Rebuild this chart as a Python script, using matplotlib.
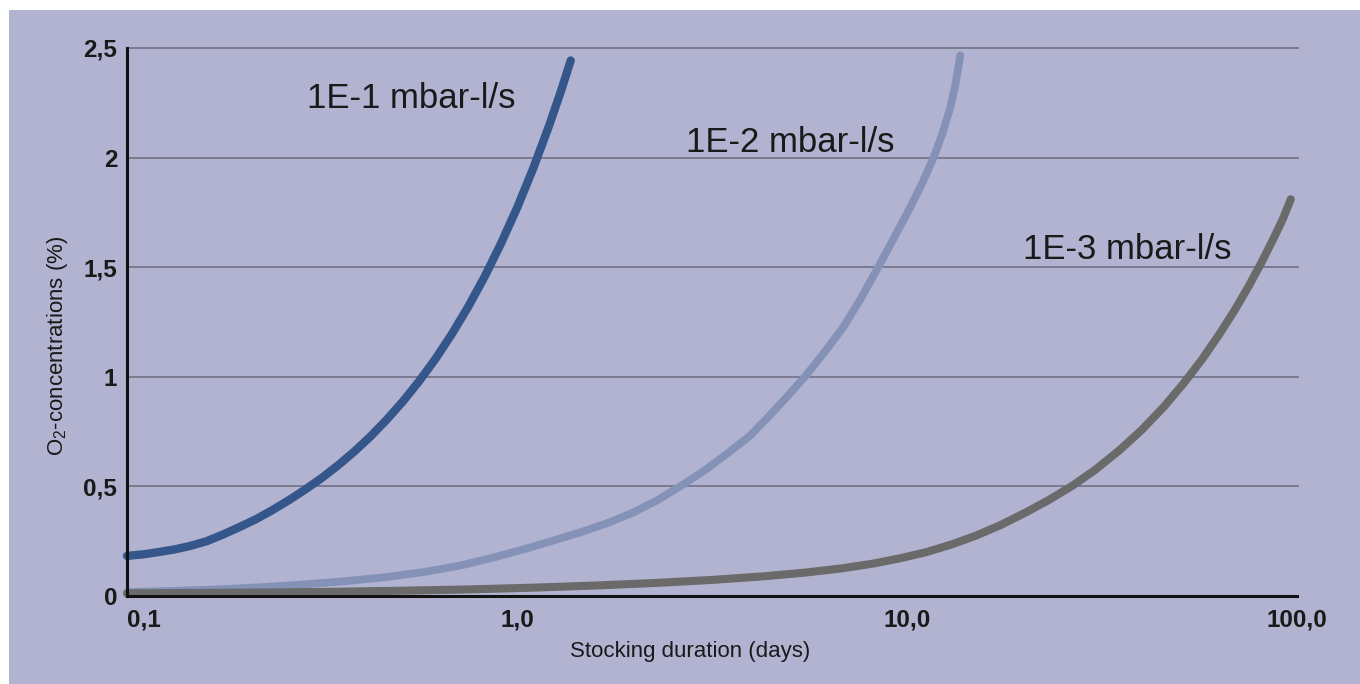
"""
O2 concentration vs stocking duration for three leak rates.
"""

import matplotlib
matplotlib.use('Agg')
import matplotlib.pyplot as plt
from matplotlib.patches import Rectangle

# ── Data ──────────────────────────────────────────────────────
t_e1 = [0.100, 0.110, 0.120, 0.132, 0.145, 0.160, 0.176, 0.194, 0.214, 0.236,
        0.260, 0.286, 0.315, 0.347, 0.382, 0.420, 0.462, 0.510, 0.560, 0.617,
        0.680, 0.750, 0.825, 0.908, 1.000, 1.100, 1.210, 1.300, 1.373]
y_e1 = [0.183, 0.190, 0.200, 0.212, 0.228, 0.250, 0.280, 0.314, 0.350, 0.392,
        0.437, 0.485, 0.537, 0.595, 0.658, 0.726, 0.802, 0.888, 0.978, 1.080,
        1.194, 1.320, 1.455, 1.605, 1.770, 1.950, 2.148, 2.310, 2.443]

t_e2 = [0.10, 0.13, 0.17, 0.22, 0.28, 0.36, 0.46, 0.58, 0.72, 0.88, 1.05,
        1.25, 1.48, 1.72, 1.98, 2.28, 2.62, 3.00, 3.45, 3.95, 4.40, 4.90,
        5.47, 6.10, 6.87, 7.60, 8.44, 9.30, 10.2, 10.95, 11.7, 12.3, 12.9,
        13.3, 13.7]
y_e2 = [0.018, 0.023, 0.030, 0.040, 0.052, 0.067, 0.086, 0.110, 0.140, 0.178,
        0.215, 0.255, 0.295, 0.335, 0.380, 0.435, 0.500, 0.568, 0.648, 0.730,
        0.815, 0.905, 1.000, 1.105, 1.227, 1.355, 1.500, 1.640, 1.774, 1.885,
        2.000, 2.105, 2.225, 2.330, 2.466]

t_e3 = [0.10, 0.15, 0.22, 0.33, 0.50, 0.75, 1.1, 1.6, 2.3, 3.2, 4.3, 5.5,
        6.8, 8.2, 9.6, 11.2, 13.0, 15.0, 17.3, 20.0, 23.0, 26.5, 30.5, 35.0,
        40.0, 45.5, 51.2, 57.0, 63.0, 69.0, 75.0, 81.0, 87.0, 92.0, 96.4]
y_e3 = [0.012, 0.014, 0.016, 0.019, 0.024, 0.030, 0.038, 0.048, 0.060, 0.074,
        0.090, 0.107, 0.126, 0.148, 0.172, 0.200, 0.235, 0.275, 0.322, 0.378,
        0.436, 0.502, 0.578, 0.664, 0.758, 0.862, 0.970, 1.078, 1.190, 1.300,
        1.410, 1.520, 1.630, 1.720, 1.810]

x_ticks = [0.1, 1.0, 10.0, 100.0]
x_labels = ['0,1', '1,0', '10,0', '100,0']
y_ticks = [0, 0.5, 1, 1.5, 2, 2.5]
y_labels = ['0', '0,5', '1', '1,5', '2', '2,5']

# ── Style ─────────────────────────────────────────────────────
BG = '#b2b3d0'
INK = '#1a1a1a'
plt.rcParams.update({
    'font.family': ['Liberation Sans', 'DejaVu Sans'],
    'mathtext.fontset': 'custom',
    'mathtext.rm': 'Liberation Sans',
    'mathtext.it': 'Liberation Sans:italic',
})

fig = plt.figure(figsize=(13.6, 6.84), dpi=100, facecolor='white')
fig.patches.append(Rectangle((9 / 1360, 0), 1, 674 / 684,
                             transform=fig.transFigure, facecolor=BG,
                             edgecolor='none', zorder=-10))

ax = fig.add_axes([127 / 1360, 88 / 684, 1170 / 1360, 548 / 684])
ax.set_facecolor('none')
ax.set_xscale('log')
ax.set_xlim(0.1, 100)
ax.set_ylim(0, 2.5)

for y in y_ticks[1:]:
    ax.plot([0.1, 100.5], [y, y], color='#7b7b90', lw=1.4, zorder=1,
            clip_on=False)

ax.plot(t_e2, y_e2, color='#8592b8', lw=5.6, solid_capstyle='round',
        solid_joinstyle='round', zorder=2, clip_on=False)
ax.plot(t_e3, y_e3, color='#6a6a6a', lw=5.8, solid_capstyle='round',
        solid_joinstyle='round', zorder=3, clip_on=False)
ax.plot(t_e1, y_e1, color='#34568a', lw=6.0, solid_capstyle='round',
        solid_joinstyle='round', zorder=4, clip_on=False)

ax.text(0.289, 2.27, '1E-1 mbar-l/s', fontsize=25, va='center', ha='left',
        color=INK)
ax.text(2.71, 2.07, '1E-2 mbar-l/s', fontsize=25, va='center', ha='left',
        color=INK)
ax.text(19.8, 1.58, '1E-3 mbar-l/s', fontsize=25, va='center', ha='left',
        color=INK)

ax.set_xticks(x_ticks)
ax.set_xticklabels(x_labels, fontsize=17.5, fontweight='bold', color=INK)
ax.xaxis.set_minor_locator(matplotlib.ticker.NullLocator())
ax.get_xticklabels()[0].set_horizontalalignment('left')
ax.set_yticks(y_ticks)
ax.set_yticklabels(y_labels, fontsize=17.5, fontweight='bold', color=INK)
ax.tick_params(axis='both', length=0)
ax.tick_params(axis='x', pad=9)
ax.tick_params(axis='y', pad=7)

ax.set_xlabel('Stocking duration (days)', fontsize=16, color=INK)
ax.xaxis.set_label_coords(0.481, -0.102)
ax.set_ylabel(r'O$_2$-concentrations (%)', fontsize=16, color=INK)
ax.yaxis.set_label_coords(-0.059, 0.456)
ax.xaxis.label.set_va('center')
ax.yaxis.label.set_va('center')

for side in ['top', 'right']:
    ax.spines[side].set_visible(False)
for side in ['left', 'bottom']:
    ax.spines[side].set_linewidth(2.2)
    ax.spines[side].set_color('#111111')
    ax.spines[side].set_zorder(5)

plt.savefig('out.png', dpi=100, facecolor='white')
plt.close()
